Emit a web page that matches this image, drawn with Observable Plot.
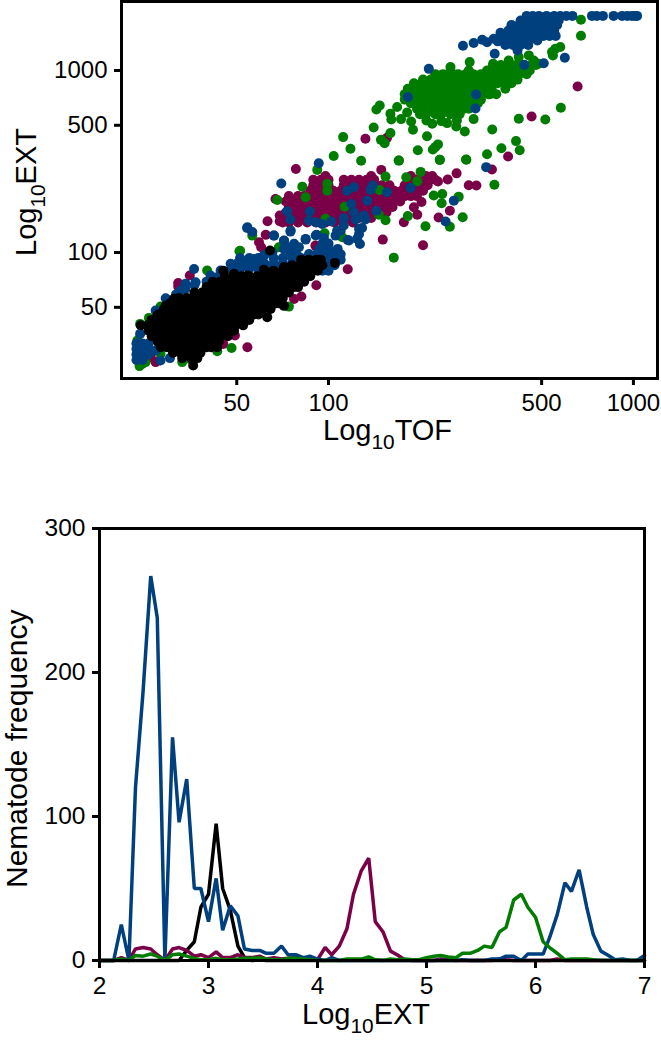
<!DOCTYPE html>
<html><head><meta charset="utf-8">
<script src="https://cdn.jsdelivr.net/npm/d3@7"></script>
<script src="https://cdn.jsdelivr.net/npm/@observablehq/plot@0.6"></script>
<style>html,body{margin:0;padding:0;background:#fff}svg{display:block}</style>
</head><body><div id="c"></div>
<script>
// Top panel: values are log10 TOF, log10 EXT. Rows: [log10EXT, [log10TOF...]]; dots: [log10TOF, log10EXT]
const purpleRows=[
[2.42,[1.99,2.14,2.27,2.32,2.34]],
[2.40,[1.95,1.975,2.0,2.05,2.075,2.1,2.125,2.15,2.26,2.285,2.31,2.335,2.35]],
[2.37,[1.95,1.975,2.0,2.05,2.075,2.1,2.125,2.15,2.175,2.2,2.25,2.275,2.3,2.325]],
[2.34,[1.94,1.965,1.99,2.015,2.04,2.065,2.09,2.115,2.14,2.165,2.19,2.215,2.24,2.265,2.29,2.31]],
[2.31,[1.87,1.9,1.92,1.95,1.97,2,2.02,2.05,2.07,2.1,2.12,2.15,2.17,2.2,2.22,2.25,2.27,2.29]],
[2.28,[1.86,1.885,1.91,1.935,1.96,1.985,2.01,2.035,2.06,2.085,2.11,2.135,2.16,2.185,2.21,2.235]],
[2.25,[1.87,1.9,1.92,1.95,1.97,2,2.02,2.05,2.07,2.1,2.12,2.15,2.17,2.2,2.21]],
[2.22,[1.86,1.885,1.91,1.935,1.96,1.985,2.01,2.035,2.06,2.085,2.11,2.135,2.16,2.19]],
[2.19,[1.85,1.87,1.9,1.92,1.95,1.97,2,2.02,2.05,2.07,2.1,2.12,2.14]],
[2.165,[1.85,1.87,1.9,1.93,1.96,1.99,2.02,2.05,2.08]]];
const purpleDots=[[1.893,2.459],[2.173,2.454],[2.42,2.435],[2.391,2.401],[2.359,2.39],[2.46,2.37],[2.485,2.368],[2.305,2.278],[2.28,2.249],[2.291,2.208],[2.247,2.166],[2.398,2.23],[2.361,2.192],[2.178,2.071],[2.31,2.04],[2.063,1.908],[1.96,1.82],[1.8,2.172],[1.794,2.097],[1.772,2.056],[1.779,2.029],[1.826,2.294],[1.84,2.203],[1.84,2.172],[1.957,2.038],[2.817,2.912],[2.666,2.747],[2.121,2.625],[2.192,2.63],[2.589,2.528],[2.536,2.456],[1.545,1.874],[1.507,1.832],[1.507,1.813],[1.734,1.48],[1.433,1.398],[1.417,1.425],[1.655,1.498],[1.693,1.544],[1.887,1.745],[1.911,1.758]];
const greenRows=[
[3.03,[2.54,2.565,2.59,2.615,2.64,2.665,2.68]],
[3.0,[2.4,2.46,2.52,2.545,2.57,2.595,2.62,2.645,2.66]],
[2.98,[2.35,2.375,2.4,2.425,2.45,2.475,2.5,2.525,2.55,2.575,2.6,2.625,2.65]],
[2.95,[2.31,2.335,2.36,2.385,2.41,2.435,2.46,2.485,2.51,2.535,2.56,2.585,2.62]],
[2.93,[2.28,2.305,2.33,2.355,2.38,2.405,2.43,2.455,2.48,2.505,2.53,2.555,2.58,2.6]],
[2.90,[2.26,2.285,2.31,2.335,2.36,2.385,2.41,2.435,2.46,2.485,2.51,2.535,2.58]],
[2.87,[2.25,2.275,2.3,2.325,2.35,2.375,2.4,2.425,2.45,2.475,2.5,2.525,2.55]],
[2.84,[2.25,2.28,2.305,2.33,2.355,2.38,2.405,2.43,2.455,2.48,2.5]],
[2.82,[2.27,2.29,2.315,2.34,2.365,2.39,2.415,2.44,2.465,2.49]],
[2.79,[2.29,2.31,2.34,2.37,2.395,2.42,2.445,2.46]],
[2.76,[2.3,2.32,2.35,2.37,2.4,2.43]]];
const greenDots=[[2.168,2.808],[2.157,2.786],[2.203,2.762],[2.206,2.731],[2.225,2.799],[2.238,2.733],[2.258,2.769],[2.271,2.72],[2.321,2.725],[2.34,2.707],[2.389,2.711],[2.37,2.722],[2.421,2.725],[2.419,2.692],[2.277,2.674],[2.447,2.665],[2.476,2.733],[2.537,2.676],[2.624,2.735],[2.711,2.731],[2.762,2.795],[2.148,2.687],[2.203,2.656],[2.048,2.634],[2.072,2.57],[2.172,2.619],[2.184,2.601],[2.323,2.639],[2.293,2.562],[2.359,2.594],[2.35,2.579],[2.342,2.566],[2.107,2.504],[2.23,2.506],[2.365,2.509],[2.451,2.511],[2.52,2.54],[2.567,2.573],[2.615,2.612],[2.627,2.562],[2.544,2.372],[2.017,2.53],[2.231,2.505],[2.365,2.509],[2.452,2.51],[1.963,2.454],[1.914,2.362],[1.925,2.304],[1.832,2.289],[1.996,2.377],[1.996,2.34],[2.187,2.417],[2.255,2.413],[2.302,2.443],[2.291,2.391],[2.167,2.344],[2.053,2.252],[1.99,2.185],[2.165,2.208],[2.187,2.177],[2.26,2.2],[2.345,2.313],[2.373,2.322],[2.427,2.307],[2.371,2.271],[2.318,2.144],[2.398,2.142],[2.44,2.194],[2.214,1.972],[2.045,2.084],[1.987,2.106],[1.75,2.093],[1.71,2.01],[1.837,2.029],[2.828,3.279],[2.828,3.191],[2.76,3.129],[2.744,3.119],[2.733,3.101],[2.736,3.083],[2.657,3.083],[2.673,3.055],[2.689,3.037],[2.624,3.074],[2.591,3.055],[2.54,3.037],[2.463,3.046],[2.4,3.019],[1.382,1.608],[1.389,1.388],[1.38,1.376],[1.4,1.398],[1.52,1.398],[1.545,1.416],[1.602,1.901],[1.708,2.007],[1.682,1.476],[1.635,1.458],[1.605,1.489],[1.411,1.641],[1.449,1.703],[1.373,1.517],[1.449,1.443],[1.87,1.703],[2.47,2.845],[2.53,2.87]];
const blueRows=[
[3.3,[2.65,2.67,2.69,2.715,2.74,2.76,2.78,2.8,2.864,2.88,2.9,2.935,2.963,2.98,2.995,3.005,3.012]],
[3.275,[2.63,2.655,2.68,2.705,2.73,2.755]],
[3.25,[2.6,2.625,2.65,2.675,2.7,2.725,2.75]],
[3.22,[2.59,2.615,2.64,2.665,2.69,2.715,2.74]],
[3.19,[2.58,2.605,2.63,2.655,2.68,2.705,2.725,2.745]],
[3.165,[2.58,2.605,2.63,2.655,2.685]],
[3.14,[2.58,2.605,2.63,2.655]],
[3.11,[2.62]],
[2.08,[1.985]],[2.05,[1.98,2.0]],[2.02,[1.97,2.0,2.03]],[1.99,[1.96,1.99,2.02,2.04]],[1.96,[1.95,1.98,2.01,2.04]],[1.93,[1.93,1.96,1.99,2.02]],[1.90,[1.92,1.95,1.98,2.0]],
[1.97,[1.71,1.74,1.77,1.82,1.85,1.88,1.91]],[1.94,[1.7,1.73,1.76,1.79,1.82,1.85,1.88,1.91]],[1.91,[1.68,1.71,1.74,1.77,1.8,1.83,1.86,1.89]],
[1.5,[1.37,1.39,1.41]],[1.47,[1.37,1.39,1.41]],[1.44,[1.37,1.39,1.41]],[1.41,[1.37,1.39]]];
const blueDots=[[1.968,2.49],[1.845,2.379],[2.083,2.359],[2.061,2.34],[2.138,2.344],[2.145,2.368],[2.192,2.331],[2.269,2.355],[2.127,2.285],[2.075,2.267],[2.083,2.221],[2.157,2.23],[2.116,2.203],[2.089,2.181],[2.121,2.181],[1.864,2.227],[1.875,2.181],[1.939,2.225],[1.936,2.175],[1.957,2.166],[1.979,2.157],[2.009,2.17],[2.05,2.188],[2.05,2.148],[2.028,2.12],[2.04,2.12],[2.023,2.093],[1.875,2.115],[1.961,2.098],[1.925,2.071],[1.821,2.093],[1.733,2.135],[1.75,2.113],[2.063,2.069],[2.1,2.13],[2.11,2.135],[2.094,2.075],[2.103,2.047],[2.1,2.1],[1.854,2.065],[1.886,2.038],[1.903,2.029],[1.865,2.029],[1.875,2.0],[1.892,1.983],[1.788,1.983],[1.936,1.992],[2.411,2.285],[2.384,2.17],[2.329,3.009],[2.26,2.854],[2.484,2.868],[2.482,2.791],[2.517,2.469],[2.642,3.031],[2.706,3.04],[2.775,3.07],[2.441,3.136],[2.476,3.151],[2.504,3.169],[2.52,3.155],[2.542,3.174],[2.545,3.092],[2.564,3.207],[2.555,3.16],[2.58,3.147],[1.382,1.553],[1.449,1.407],[1.48,1.42],[1.433,1.462],[1.433,1.681],[1.466,1.749],[1.559,1.91],[1.531,1.828],[1.564,1.837],[1.515,1.791],[1.613,1.874],[1.646,1.901],[1.679,1.938],[1.57,1.46],[1.5,1.77],[1.53,1.8],[1.56,1.82],[1.6,1.84],[1.64,1.87],[1.756,1.965],[1.788,1.984],[1.816,2.002],[1.854,2.066],[1.887,2.048],[1.876,2.121],[1.925,2.075],[1.958,2.094],[1.734,2.139],[1.821,2.094],[2.067,2.066],[1.854,2.02],[1.898,1.984]];
const blackRows=[
[1.96,[1.91,1.935,1.96,1.975]],
[1.93,[1.88,1.905,1.93,1.955,1.98]],
[1.90,[1.655,1.79,1.82,1.85,1.875,1.9,1.925,1.95,1.965]],
[1.87,[1.66,1.69,1.715,1.74,1.765,1.79,1.815,1.84,1.865,1.89,1.915,1.94]],
[1.84,[1.62,1.645,1.67,1.695,1.72,1.745,1.77,1.795,1.82,1.845,1.87,1.895,1.92]],
[1.81,[1.6,1.625,1.642,1.66,1.685,1.71,1.735,1.76,1.785,1.81,1.835,1.86,1.885,1.9]],
[1.78,[1.56,1.585,1.61,1.635,1.66,1.685,1.71,1.735,1.76,1.785,1.81,1.835,1.855,1.87]],
[1.75,[1.51,1.535,1.56,1.585,1.61,1.635,1.66,1.685,1.71,1.735,1.76,1.785,1.81,1.83,1.85]],
[1.72,[1.48,1.505,1.53,1.555,1.58,1.605,1.63,1.655,1.68,1.705,1.73,1.755,1.78,1.805,1.825,1.84]],
[1.69,[1.46,1.485,1.51,1.535,1.56,1.585,1.61,1.635,1.66,1.685,1.71,1.735,1.76,1.785,1.81]],
[1.66,[1.44,1.465,1.49,1.515,1.54,1.565,1.59,1.615,1.64,1.665,1.69,1.715,1.74,1.755,1.77]],
[1.63,[1.42,1.445,1.47,1.495,1.52,1.545,1.57,1.595,1.62,1.645,1.67,1.695,1.72,1.74]],
[1.60,[1.384,1.406,1.42,1.445,1.47,1.495,1.52,1.545,1.57,1.595,1.62,1.645,1.67,1.695,1.72]],
[1.57,[1.41,1.435,1.46,1.485,1.51,1.535,1.56,1.585,1.61,1.635,1.66,1.675,1.69]],
[1.54,[1.42,1.445,1.47,1.495,1.52,1.545,1.57,1.595,1.62,1.645,1.67]],
[1.51,[1.44,1.465,1.49,1.515,1.54,1.565,1.59,1.615,1.64]],
[1.48,[1.45,1.47,1.495,1.52,1.545,1.57,1.6,1.615,1.635]],
[1.45,[1.49,1.515,1.54,1.56,1.58]],
[1.42,[1.52,1.55,1.57]],
[1.38,[1.556]]];
const blackDots=[[1.493,1.746],[1.466,1.709],[1.808,2.011],[2.021,1.943],[1.854,1.707],[1.799,1.645],[1.69,1.883],[1.734,1.874],[1.788,1.905],[1.854,1.92]];

// Bottom panel
const logExtBins=[2,2.07,2.13,2.2,2.27,2.33,2.4,2.47,2.53,2.6,2.67,2.73,2.8,2.87,2.93,3,3.07,3.13,3.2,3.27,3.33,3.4,3.47,3.53,3.6,3.67,3.73,3.8,3.87,3.93,4,4.07,4.13,4.2,4.27,4.33,4.4,4.47,4.53,4.6,4.67,4.73,4.8,4.87,4.93,5,5.07,5.13,5.2,5.27,5.33,5.4,5.47,5.53,5.6,5.67,5.73,5.8,5.87,5.93,6,6.07,6.13,6.2,6.27,6.33,6.4,6.47,6.53,6.6,6.67,6.73,6.8,6.87,6.93,7];
const blackFreq=[0,0,0,0,0,0,0,0,0,0,0,0,7,13,37,46,95,50,35,10,2,0,0.5,0,0,0,0,0,0,0,0,0,0,0,0,0,0,0,0,0,0,0,0,0,0,0,0,0,0,0,0,0,0,0,0,0,0,0,0,0,0,0,0,0,0,0,0,0,0,0,0,0,0,0,0,0];
const purpleFreq=[0,0,0,2,0,8,9,8,4,0,8,9,7,3,4,2,6,2,2,4,2,2,3,1,2,1,1.5,2,1,0.5,0.5,9,4,10,22,46,62,71,27,20,6.5,4,0.5,0,0,0,0,1,0.5,0,0,0,0,0,0,1,0.5,0,0,0,0,0,0,1,0,0,0,0,0,0,0,0,0,0,0,0];
const blueFreq=[0,0,0,25,0,120,187,267,238,0,155,96,126,50,50,27,57,21,38,31,8,7,7,5,5,10,4,4,2,3,1,0,2,0,0,0,0,0,0,0,0,0,0,0,0,0,0,0,0,0,0.5,0,0,0,1,1,3,3,0,4.5,4.5,4.5,16,32,54,48,63,37,18,6.5,3.5,0.5,1,0,0,3.5];
const greenFreq=[0,0,0,1,0,3.5,3,4.5,3,0,4,4.5,3,1.5,0.5,0.5,1.5,0.5,0.5,1,1.5,1.5,2,1,0.5,0.5,1.5,1.5,1,0.5,0,0,0,0,1,1,1,2.5,0.5,0,1,0.5,1,0.5,0.5,2,3,3.5,2.5,2,5,5,7,10,9,20,23,42,46,37,30,13,9,5,0.5,1,1,1,0.5,0,0,0,0,0,0,0];

const blue="#00407f",green="#007c00",purple="#7a0048",black="#000";
const xTicks=[50,100,500,1000],yTicks=[50,100,500,1000];
const font="Liberation Sans";

const flat=(rows,dots)=>[...rows.flatMap(([e,ts])=>ts.map(t=>[t,e])),...dots].map(([t,e])=>({tof:10**t,ext:10**e}));
const scatter=[[purple,purpleRows,purpleDots],[green,greenRows,greenDots],[blue,blueRows,blueDots],[black,blackRows,blackDots]];

const topPlot=Plot.plot({
  width:661,height:470,marginLeft:121,marginRight:4,marginTop:1,marginBottom:92,
  style:{fontFamily:font,fontSize:"24px",background:"#fff",color:"#000"},
  x:{type:"log",domain:[10**1.321,10**3.079]},
  y:{type:"log",domain:[10**1.308,10**3.379]},
  marks:[
    ...scatter.map(([c,r,d])=>Plot.dot(flat(r,d),{x:"tof",y:"ext",r:5,fill:c,stroke:"none"})),
    Plot.frame({stroke:"#000",strokeWidth:3}),
    Plot.axisX({ticks:xTicks,tickFormat:d=>String(d),tickSize:7,tickPadding:8,strokeWidth:3,label:null}),
    Plot.axisY({ticks:yTicks,tickFormat:d=>String(d),tickSize:7,tickPadding:7,strokeWidth:3,label:null})
  ]
});

const lineOpts=c=>({x:"x",y:"y",stroke:c,strokeWidth:3.5,strokeLinejoin:"miter",curve:"linear"});
const ser=v=>v.map((y,i)=>({x:logExtBins[i],y}));
const bottomPlot=Plot.plot({
  width:661,height:580,marginLeft:99,marginRight:17,marginTop:58,marginBottom:90,
  style:{fontFamily:font,fontSize:"24.5px",background:"#fff",color:"#000"},
  x:{domain:[2,7]},y:{domain:[0,300]},
  marks:[
    Plot.line(ser(blackFreq),lineOpts(black)),
    Plot.line(ser(purpleFreq),lineOpts(purple)),
    Plot.line(ser(blueFreq),lineOpts(blue)),
    Plot.line(ser(greenFreq),lineOpts(green)),
    Plot.frame({stroke:"#000",strokeWidth:3}),
    Plot.axisX({ticks:[2,3,4,5,6,7],tickFormat:d=>String(d),tickSize:8,tickPadding:8,strokeWidth:3,label:null}),
    Plot.axisY({ticks:[0,100,200,300],tickFormat:d=>String(d),tickSize:7,tickPadding:7,strokeWidth:3,label:null})
  ]
});

function title(svg,x,y,rot,main,sub,tail,size){
  const t=d3.select(svg).append("text").attr("transform",`translate(${x},${y}) rotate(${rot})`)
    .attr("text-anchor","start").attr("font-family",font).attr("font-size",size).attr("fill","#000");
  t.append("tspan").text(main);
  if(sub){
    t.append("tspan").attr("font-size",size*0.72).attr("dy",size*0.3).text(sub);
    t.append("tspan").attr("dy",-size*0.3).text(tail);
  }
}
title(topPlot,323,440,0,"Log","10","TOF",29);
title(topPlot,36,256,-90,"Log","10","EXT",29);
title(bottomPlot,302,1024-470,0,"Log","10","EXT",29);
title(bottomPlot,27,888-470,-90,"Nematode frequency",null,null,30);

document.getElementById("c").append(topPlot,bottomPlot);
</script>
</body></html>
